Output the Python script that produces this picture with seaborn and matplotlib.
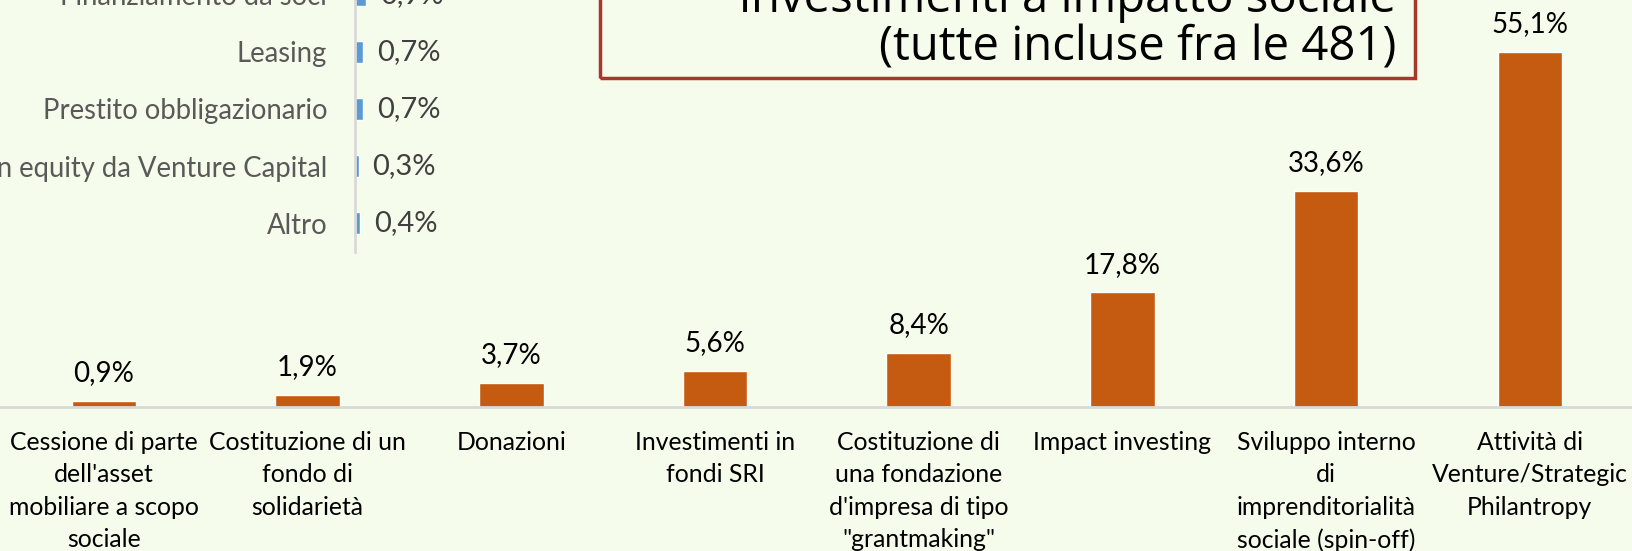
import matplotlib
matplotlib.use("Agg")
import matplotlib.pyplot as plt
import seaborn as sns
from matplotlib.patches import Rectangle

# dati principali
categorie = [
    "Cessione di parte\ndell'asset\nmobiliare a scopo\nsociale",
    "Costituzione di un\nfondo di\nsolidarietà",
    "Donazioni",
    "Investimenti in\nfondi SRI",
    "Costituzione di\nuna fondazione\nd'impresa di tipo\n\"grantmaking\"",
    "Impact investing",
    "Sviluppo interno\ndi\nimprenditorialità\nsociale (spin-off)",
    "Attività di\nVenture/Strategic\nPhilantropy",
]
valori = [0.9, 1.9, 3.7, 5.6, 8.4, 17.8, 33.6, 55.1]

# dati del riquadro (strumenti di finanziamento)
strumenti = [
    "Finanziamento da soci",
    "Leasing",
    "Prestito obbligazionario",
    "Ingresso in equity da Venture Capital",
    "Altro",
]
valori_strumenti = [0.9, 0.7, 0.7, 0.3, 0.4]

SFONDO = "#F6FCEB"
ARANCIO = "#C55A11"
BLU = "#5B9BD5"

sns.set_theme(style="white")
plt.rcParams["font.family"] = ["Lato", "DejaVu Sans"]

W, H = 1633, 551
fig = plt.figure(figsize=(W / 100, H / 100), dpi=100, facecolor=SFONDO)

# grafico principale
ax = fig.add_axes([0, (H - 407) / H, 1, 407 / H])
ax.set_facecolor("none")
sns.barplot(x=categorie, y=valori, color=ARANCIO, width=0.317, saturation=1, ax=ax)
ax.set_xlim(-0.51, -0.51 + W / 203.7)
ax.set_ylim(0, 407 / 6.44)
for s in ["top", "left", "right"]:
    ax.spines[s].set_visible(False)
ax.spines["bottom"].set_color("#D9D9D9")
ax.spines["bottom"].set_linewidth(2)
ax.set_yticks([])
ax.tick_params(axis="x", length=0, pad=17, labelsize=17.8, labelcolor="black")
for lab in ax.get_xticklabels():
    lab.set_linespacing(1.5)
    lab.set_verticalalignment("top")
for i, v in enumerate(valori):
    ax.annotate(f"{v:.1f}%".replace(".", ","), (i, v), xytext=(0, 20),
                textcoords="offset points", ha="center", va="center",
                fontsize=20, color="black")

# riquadro con barre orizzontali
ax2 = fig.add_axes([355 / W, (H - 251.5) / H, 200 / W, 5 * 57 / H])
ax2.set_facecolor("none")
sns.barplot(x=valori_strumenti, y=strumenti, orient="h", color=BLU, width=0.37,
            saturation=1, ax=ax2)
ax2.set_xlim(0, 200 / 12)
for s in ["top", "bottom", "right"]:
    ax2.spines[s].set_visible(False)
ax2.spines["left"].set_color("#D9D9D9")
ax2.spines["left"].set_linewidth(2)
ax2.set_xticks([])
ax2.set_xlabel("")
ax2.set_ylabel("")
ax2.tick_params(axis="y", length=0, pad=20, labelsize=19.8, labelcolor="#595959")
for i, v in enumerate(valori_strumenti):
    ax2.annotate(f"{v:.1f}%".replace(".", ","), (v, i), xytext=(10, 0),
                 textcoords="offset points", ha="left", va="center",
                 fontsize=21, color="#404040")

# titolo nel riquadro
fig.patches.append(Rectangle((600 / W, (H - 78) / H), 815 / W, 0.3,
                             transform=fig.transFigure, facecolor="none",
                             edgecolor="#A8382B", linewidth=2.5))
fig.text(1396 / W, (H - 12) / H, "investimenti a impatto sociale", ha="right",
         va="baseline", fontsize=34, color="black", family="Open Sans")
fig.text(1396 / W, (H - 61) / H, "(tutte incluse fra le 481)", ha="right",
         va="baseline", fontsize=34, color="black", family="Open Sans")

fig.savefig("out.png", dpi=100, facecolor=SFONDO)
